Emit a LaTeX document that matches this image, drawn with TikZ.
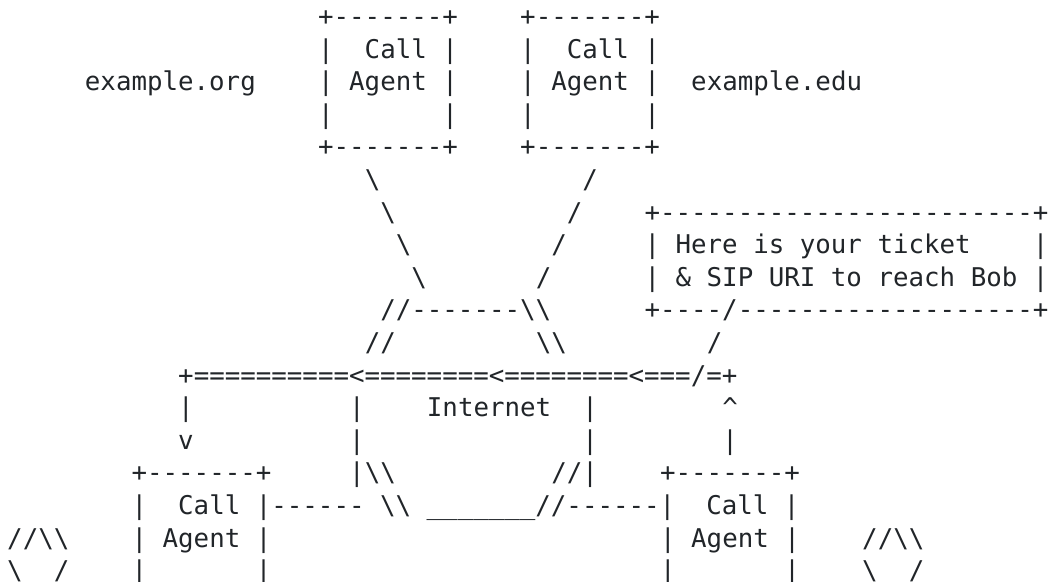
\documentclass[tikz,border=0pt]{standalone}
\usepackage{fontspec}
\setmonofont{DejaVu Sans Mono}
\definecolor{ink}{RGB}{33,37,41}
\tikzset{
  asc/.style={anchor=base west, inner sep=0pt, outer sep=0pt, text=ink,
    font=\fontsize{25.8pt}{32.6pt}\selectfont\ttfamily}
}
\newcommand\bs{\textbackslash}
\newcommand\ascline[4]{\node[asc] (#1) at ({7.23pt+#2*15.545pt},{-25.4pt-(#3-1)*32.6pt}) {#4};}
\begin{document}
\begin{tikzpicture}
\useasboundingbox (0,0) rectangle (1048pt,-581pt);
% top call agents
\ascline{caAtop}{20}{1}{+-------+}
\ascline{caBtop}{33}{1}{+-------+}
\ascline{caAl2}{20}{2}{|~~Call~|}
\ascline{caBl2}{33}{2}{|~~Call~|}
\ascline{org}{5}{3}{example.org}
\ascline{caAl3}{20}{3}{|~Agent~|}
\ascline{caBl3}{33}{3}{|~Agent~|}
\ascline{edu}{44}{3}{example.edu}
\ascline{caAl4}{20}{4}{|~~~~~~~|}
\ascline{caBl4}{33}{4}{|~~~~~~~|}
\ascline{caAbot}{20}{5}{+-------+}
\ascline{caBbot}{33}{5}{+-------+}
% diagonal links
\ascline{dA1}{23}{6}{\bs}
\ascline{dB1}{37}{6}{/}
\ascline{dA2}{24}{7}{\bs}
\ascline{dB2}{36}{7}{/}
\ascline{dA3}{25}{8}{\bs}
\ascline{dB3}{35}{8}{/}
\ascline{dA4}{26}{9}{\bs}
\ascline{dB4}{34}{9}{/}
% ticket box
\ascline{tk1}{41}{7}{+------------------------+}
\ascline{tk2}{41}{8}{|~Here~is~your~ticket~~~~|}
\ascline{tk3}{41}{9}{|~\&~SIP~URI~to~reach~Bob~|}
\ascline{tk4}{41}{10}{+----/-------------------+}
% cloud top
\ascline{cl1}{24}{10}{//-------\bs\bs}
\ascline{cl2a}{23}{11}{//}
\ascline{cl2b}{34}{11}{\bs\bs}
\ascline{tkleg}{45}{11}{/}
% internet bar
\ascline{bar}{11}{12}{+==========<========<========<===/=+}
\ascline{l13a}{11}{13}{|}
\ascline{l13b}{22}{13}{|}
\ascline{inet}{27}{13}{Internet}
\ascline{l13c}{37}{13}{|}
\ascline{up}{46}{13}{\textasciicircum}
\ascline{down}{11}{14}{v}
\ascline{l14b}{22}{14}{|}
\ascline{l14c}{37}{14}{|}
\ascline{l14d}{46}{14}{|}
% bottom call agents
\ascline{caCtop}{8}{15}{+-------+}
\ascline{cl3a}{22}{15}{|\bs\bs}
\ascline{cl3b}{35}{15}{//|}
\ascline{caDtop}{42}{15}{+-------+}
\ascline{l16}{8}{16}{|~~Call~|------~\bs\bs~\_\_\_\_\_\_\_//------|~~Call~|}
\ascline{phL1}{0}{17}{//\bs\bs}
\ascline{caCl3}{8}{17}{|~Agent~|}
\ascline{caDl3}{42}{17}{|~Agent~|}
\ascline{phR1}{55}{17}{//\bs\bs}
\ascline{phL2}{0}{18}{\bs~~/}
\ascline{caCl4}{8}{18}{|~~~~~~~|}
\ascline{caDl4}{42}{18}{|~~~~~~~|}
\ascline{phR2}{55}{18}{\bs~~/}
\end{tikzpicture}
\end{document}
